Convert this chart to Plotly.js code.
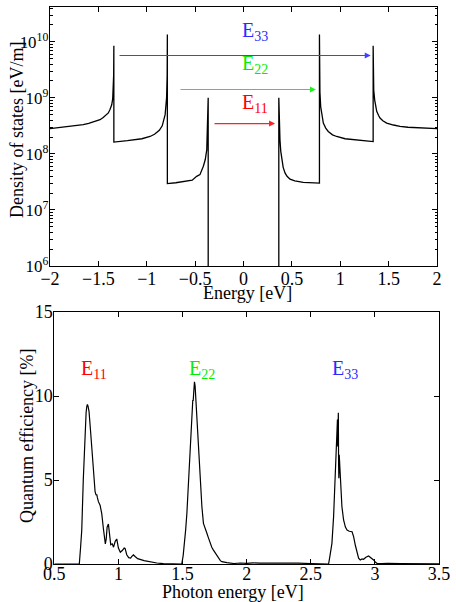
<!DOCTYPE html>
<html>
<head>
<meta charset="utf-8">
<script src="https://cdn.plot.ly/plotly-3.0.1.min.js"></script>
<style>html,body{margin:0;padding:0;background:#fff}#chart{width:456px;height:602px}</style>
</head>
<body>
<div id="chart"></div>
<script>
// Top panel: density of states vs energy
const dosEnergy = [
  -2.0, -1.9, -1.8, -1.7, -1.656, -1.6, -1.55, -1.5, -1.483, -1.45, -1.42, -1.397, -1.38, -1.362, -1.352, -1.346, -1.342, -1.34,
  -1.34, -1.2, -1.05, -0.966, -0.92, -0.87, -0.84, -0.81, -0.795, -0.789, -0.787,
  -0.787, -0.7, -0.622, -0.53, -0.484, -0.45, -0.415, -0.395, -0.38, -0.372, -0.367, -0.365,
  -0.365, 0.365,
  0.365, 0.368, 0.372, 0.377, 0.385, 0.395, 0.41, 0.429, 0.45, 0.481, 0.53, 0.618, 0.7, 0.785,
  0.785, 0.787, 0.79, 0.798, 0.81, 0.825, 0.85, 0.876, 0.92, 0.963, 1.05, 1.204, 1.34,
  1.34, 1.342, 1.346, 1.356, 1.365, 1.377, 1.395, 1.411, 1.44, 1.48, 1.55, 1.618, 1.7, 1.824, 1.9, 2.0
];
const dosValue = [
  2.818e8, 2.951e8, 3.090e8, 3.236e8, 3.311e8, 3.508e8, 3.758e8, 3.981e8, 4.074e8, 4.467e8, 4.898e8, 5.370e8, 6.166e8, 7.499e8, 9.550e8, 1.380e9, 2.512e9, 8.511e9,
  1.622e8, 1.718e8, 1.862e8, 2.042e8, 2.239e8, 2.630e8, 3.162e8, 5.012e8, 1.0e9, 2.512e9, 1.349e10,
  2.951e7, 3.055e7, 3.162e7, 3.388e7, 3.981e7, 4.266e7, 6.026e7, 7.943e7, 1.175e8, 2.512e8, 4.467e8, 1.0e9,
  1.0e5, 1.0e5,
  1.0e9, 3.981e8, 2.512e8, 1.778e8, 1.122e8, 7.762e7, 5.754e7, 4.571e7, 3.981e7, 3.548e7, 3.311e7, 3.090e7, 3.055e7, 3.020e7,
  1.349e10, 2.512e9, 1.259e9, 6.918e8, 4.786e8, 3.548e8, 2.884e8, 2.512e8, 2.188e8, 2.042e8, 1.862e8, 1.738e8, 1.660e8,
  8.511e9, 2.512e9, 1.380e9, 9.120e8, 7.079e8, 5.754e8, 4.898e8, 4.365e8, 3.890e8, 3.548e8, 3.273e8, 3.090e8, 2.985e8, 2.884e8, 2.851e8, 2.818e8
];

// Bottom panel: quantum efficiency vs photon energy
const photonEnergy = [
  0.5, 0.6, 0.69, 0.695, 0.705, 0.714, 0.726, 0.740, 0.748, 0.753, 0.758, 0.763, 0.771, 0.784, 0.797, 0.810, 0.818, 0.826, 0.831, 0.836, 0.844, 0.857, 0.870, 0.883, 0.892, 0.898, 0.905, 0.912, 0.922, 0.93, 0.94, 0.952, 0.962, 0.975, 0.987, 1.0, 1.015, 1.03, 1.045, 1.052, 1.065, 1.08, 1.095, 1.105, 1.117, 1.13, 1.15, 1.2, 1.25, 1.3, 1.35, 1.4, 1.494,
  1.505, 1.513, 1.524, 1.534, 1.544, 1.554, 1.565, 1.573, 1.580, 1.583, 1.588, 1.593, 1.598, 1.604, 1.611, 1.624, 1.637, 1.651, 1.663, 1.675, 1.690, 1.70, 1.715, 1.728, 1.741, 1.76, 1.78, 1.79, 1.795, 1.807, 1.83, 1.846, 1.9, 1.95, 2.0, 2.05, 2.1, 2.2, 2.3, 2.4, 2.5, 2.6, 2.639,
  2.65, 2.665, 2.678, 2.691, 2.700, 2.705, 2.708, 2.710, 2.712, 2.715, 2.717, 2.719, 2.722, 2.728, 2.735, 2.743, 2.756, 2.770, 2.783, 2.8, 2.822, 2.834, 2.848, 2.861, 2.873, 2.886, 2.9, 2.912, 2.93, 2.951, 2.97, 2.99, 3.005, 3.017, 3.05, 3.1, 3.2, 3.3, 3.4, 3.5
];
const quantumEff = [
  0, 0, 0, 0, 1.0, 2.0, 5.0, 8.0, 9.0, 9.36, 9.5, 9.4, 9.07, 7.78, 6.39, 4.6, 4.3, 4.1, 4.15, 3.95, 3.71, 3.5, 3.0, 2.1, 1.5, 1.2, 1.5, 2.2, 2.38, 1.7, 1.15, 1.2, 1.0, 1.35, 1.49, 0.95, 0.7, 0.8, 0.95, 0.93, 0.55, 0.38, 0.35, 0.45, 0.54, 0.45, 0.32, 0.2, 0.12, 0.06, 0.02, 0, 0,
  0.5, 1.03, 2.0, 3.02, 4.5, 6.0, 7.8, 8.97, 9.76, 9.7, 10.3, 10.85, 10.6, 9.8, 8.97, 6.98, 5.0, 3.41, 2.42, 2.1, 1.83, 1.6, 1.23, 1.0, 0.83, 0.6, 0.43, 0.3, 0.2, 0.14, 0.1, 0.08, 0.03, 0.06, 0.04, 0.07, 0.05, 0.06, 0.04, 0.05, 0.03, 0.01, 0,
  0.5, 1.23, 2.82, 5.79, 7.5, 8.17, 8.6, 7.0, 8.8, 9.0, 6.0, 5.1, 6.5, 5.5, 4.3, 3.41, 2.62, 2.2, 2.02, 1.95, 1.92, 1.63, 1.1, 0.64, 0.35, 0.24, 0.3, 0.28, 0.4, 0.48, 0.38, 0.24, 0.1, 0.04, 0.02, 0.04, 0.02, 0.03, 0.02, 0.01
];

// Transition labels and arrows (top panel)
const transLabels = ['E<sub>11</sub>', 'E<sub>22</sub>', 'E<sub>33</sub>'];
const transColors = ['#ff0000', '#00ee00', '#2b2bff'];
const arrowColors = ['#ff2020', '#20f020', '#4040ff'];
const arrowStart = [-0.315, -0.667, -1.297];
const arrowEnd = [0.326, 0.749, 1.315];
const arrowLevel = [3.47e8, 1.406e9, 5.69e9];
const topLabelX = [0.12, 0.12, 0.12];
const topLabelY = [7.9e8, 3.9e9, 1.5e10];
// Peak labels (bottom panel)
const peakLabelX = [0.81, 1.655, 2.767];
const peakLabelY = [11.6, 11.6, 11.6];

const FONT = '"Liberation Serif", serif';
const mkFont = (size, color) => ({family: FONT, size: size, color: color || '#000'});

const traces = [
  {x: dosEnergy, y: dosValue, type: 'scatter', mode: 'lines', xaxis: 'x', yaxis: 'y',
   line: {color: '#000', width: 1.3}, hoverinfo: 'skip'},
  {x: photonEnergy, y: quantumEff, type: 'scatter', mode: 'lines', xaxis: 'x2', yaxis: 'y2',
   line: {color: '#000', width: 1.2}, hoverinfo: 'skip'}
];

const annotations = [];
for (let i = 0; i < 3; i++) {
  annotations.push({xref: 'x', yref: 'y', axref: 'x', ayref: 'y',
    x: arrowEnd[i], y: Math.log10(arrowLevel[i]), ax: arrowStart[i], ay: Math.log10(arrowLevel[i]),
    text: '', showarrow: true, arrowhead: 2, arrowsize: 1, arrowwidth: 1.2, arrowcolor: arrowColors[i], standoff: 0, startstandoff: 0});
  annotations.push({xref: 'x', yref: 'y', x: topLabelX[i], y: Math.log10(topLabelY[i]),
    text: transLabels[i], showarrow: false, font: mkFont(20, transColors[i])});
  annotations.push({xref: 'x2', yref: 'y2', x: peakLabelX[i], y: peakLabelY[i],
    text: transLabels[i], showarrow: false, font: mkFont(20, transColors[i])});
}
const axisTitles = [
  {text: 'Energy [eV]', px: 247, py: 293, rot: 0},
  {text: 'Density of states [eV/m]', px: 17, py: 130, rot: -90},
  {text: 'Photon energy [eV]', px: 233, py: 592, rot: 0},
  {text: 'Quantum efficiency [%]', px: 27, py: 436, rot: -90}
];

const W = 456, H = 602, ML = 50, MR = 17, MT = 7, MB = 38;
const pw = W - ML - MR, ph = H - MT - MB;
axisTitles.forEach(t => {
  annotations.push({xref: 'paper', yref: 'paper', x: (t.px - ML) / pw, y: (H - MB - t.py) / ph,
    xanchor: 'center', yanchor: 'middle', text: t.text, textangle: t.rot, showarrow: false,
    font: mkFont(18)});
});

const axisBase = (extra) => Object.assign({
  showgrid: false, zeroline: false, showline: true, linecolor: '#000', linewidth: 1,
  mirror: 'ticks', ticks: 'inside', ticklen: 5, tickcolor: '#000', tickwidth: 1,
  tickfont: mkFont(18)
}, extra);

const layout = {
  width: W, height: H,
  margin: {l: ML, r: MR, t: MT, b: MB},
  paper_bgcolor: '#fff', plot_bgcolor: '#fff',
  showlegend: false,
  font: mkFont(18),
  xaxis: axisBase({domain: [0, 387 / pw], anchor: 'y', range: [-2, 2], dtick: 0.5, tick0: 0, ticklabelstandoff: -4}),
  yaxis: axisBase({domain: [(H - MB - 266) / ph, 1], anchor: 'x', type: 'log', range: [6, 10.62],
    dtick: 1, exponentformat: 'power', tickfont: mkFont(13.5), ticklabelstandoff: -2,
    minor: {ticks: 'inside', ticklen: 2.5, tickcolor: '#000', showgrid: false}}),
  xaxis2: axisBase({domain: [4.3 / pw, 1], anchor: 'y2', range: [0.5, 3.5], dtick: 0.5, tick0: 0.5, ticklabelstandoff: -7}),
  yaxis2: axisBase({domain: [0, (H - MB - 312) / ph], anchor: 'x2', range: [0, 15], dtick: 5, ticklabelstandoff: -3}),
  annotations: annotations
};

Plotly.newPlot('chart', traces, layout, {displayModeBar: false, staticPlot: true}).then(gd => {
  // make sure every tick label uses the serif face
  gd.querySelectorAll('.xtick text, .ytick text, .x2tick text, .y2tick text').forEach(el => {
    el.style.fontFamily = FONT;
  });
});
</script>
</body>
</html>
